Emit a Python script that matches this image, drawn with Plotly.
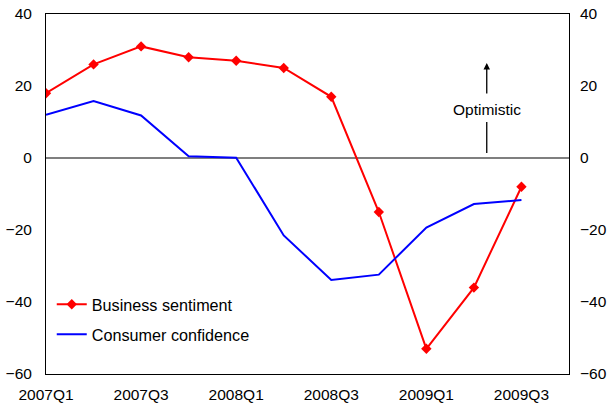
import plotly.graph_objects as go

quarters = ["2007Q1", "2007Q2", "2007Q3", "2007Q4", "2008Q1", "2008Q2",
            "2008Q3", "2008Q4", "2009Q1", "2009Q2", "2009Q3"]
business = [18, 26, 31, 28, 27, 25, 17, -15, -53, -36, -8]
consumer = [12, 15.8, 11.8, 0.5, 0.1, -21.5, -33.9, -32.4, -19.3, -12.8, -11.7]
tick_labels = ["2007Q1", "2007Q3", "2008Q1", "2008Q3", "2009Q1", "2009Q3"]
y_ticks = [-60, -40, -20, 0, 20, 40]

xi = list(range(len(quarters)))
tick_pos = [quarters.index(t) for t in tick_labels]

FONT = "Liberation Sans, Arial, sans-serif"
FS = 15.5

fig = go.Figure()
fig.add_trace(go.Scatter(
    x=xi, y=business, name="Business sentiment", mode="lines+markers",
    line=dict(color="#ff0000", width=2),
    marker=dict(symbol="diamond", size=8, color="#ff0000"),
    legendgroup="a"))
fig.add_trace(go.Scatter(
    x=xi, y=consumer, name="Consumer confidence", mode="lines",
    line=dict(color="#0000ff", width=2), legendgroup="b"))
# invisible helper trace so the right-hand axis is drawn
fig.add_trace(go.Scatter(
    x=xi, y=business, yaxis="y2", mode="lines", line=dict(width=0),
    opacity=0, showlegend=False, hoverinfo="skip"))

fig.update_layout(
    width=616, height=411,
    margin=dict(l=46, r=47, t=14, b=37),
    paper_bgcolor="white", plot_bgcolor="white",
    font=dict(family=FONT, size=FS, color="#000"),
    showlegend=True,
    legend=dict(x=0.011, y=0.241, xanchor="left", yanchor="top",
                bgcolor="rgba(0,0,0,0)", font=dict(size=16.2),
                tracegroupgap=6, traceorder="grouped"),
    xaxis=dict(range=[0, 11], tickvals=tick_pos, ticktext=tick_labels,
               showgrid=False, zeroline=False, showline=True,
               linecolor="#000", linewidth=1, mirror=True, ticks="",
               ticklabelstandoff=6, automargin=False),
    yaxis=dict(range=[-60, 40], tickvals=y_ticks, showgrid=False,
               zeroline=True, zerolinecolor="#7f7f7f", zerolinewidth=1.5,
               showline=True, linecolor="#000", linewidth=1, mirror=True,
               ticks="", ticklabelstandoff=10, automargin=False),
    yaxis2=dict(range=[-60, 40], tickvals=y_ticks, overlaying="y",
                side="right", showgrid=False, zeroline=False,
                showline=False, ticks="", ticklabelstandoff=10,
                automargin=False),
)

# annotation "Optimistic" with upward arrow
fig.add_annotation(x=9.27, y=13.6, text="Optimistic", showarrow=False,
                   font=dict(size=FS, family=FONT))
fig.add_annotation(x=9.27, y=26.4, ax=9.27, ay=17.5, xref="x", yref="y",
                   axref="x", ayref="y", text="", showarrow=True,
                   arrowhead=2, arrowsize=1, arrowwidth=1.3, arrowcolor="#000")
fig.add_shape(type="line", x0=9.27, x1=9.27, y0=1.4, y1=10.0,
              xref="x", yref="y", line=dict(color="#000", width=1.3))

fig.write_html("out.html",
               config={"displayModeBar": False},
               post_script="document.body.style.margin='0';"
                           "document.body.style.overflow='hidden';")
